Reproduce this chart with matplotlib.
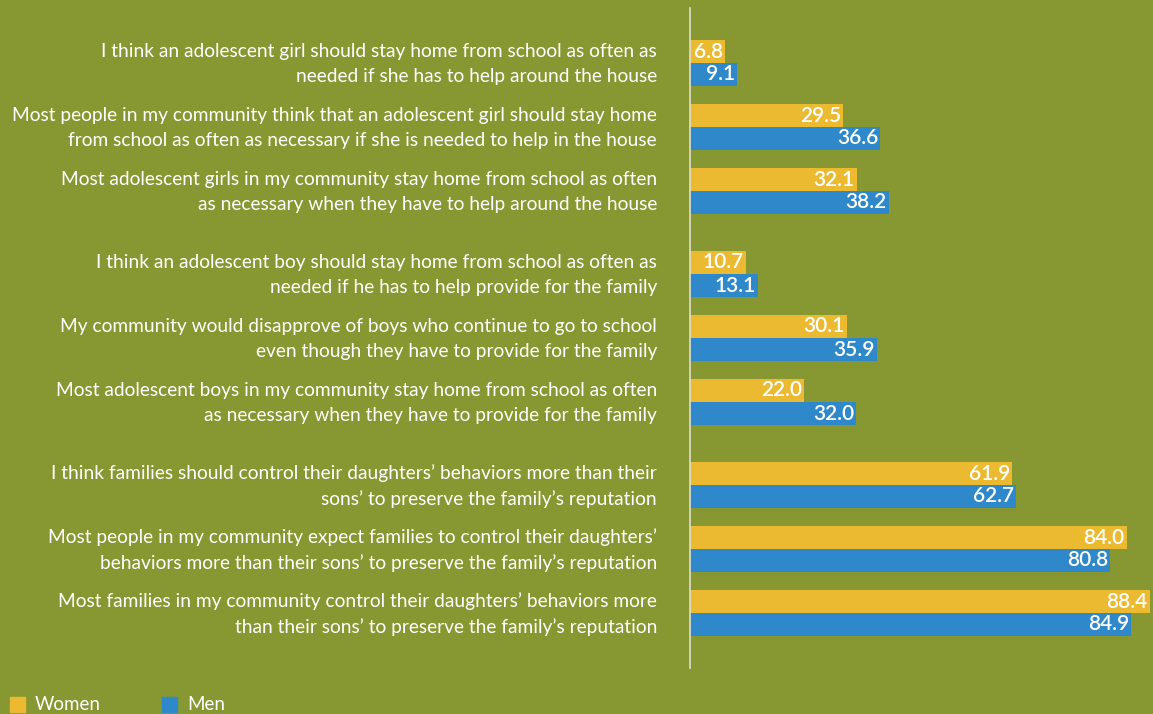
import matplotlib.pyplot as plt
from matplotlib.patches import Rectangle

# data
labels = [
    "I think an adolescent girl should stay home from school as often as\nneeded if she has to help around the house",
    "Most people in my community think that an adolescent girl should stay home\nfrom school as often as necessary if she is needed to help in the house",
    "Most adolescent girls in my community stay home from school as often\nas necessary when they have to help around the house",
    "I think an adolescent boy should stay home from school as often as\nneeded if he has to help provide for the family",
    "My community would disapprove of boys who continue to go to school\neven though they have to provide for the family",
    "Most adolescent boys in my community stay home from school as often\nas necessary when they have to provide for the family",
    "I think families should control their daughters\u2019 behaviors more than their\nsons\u2019 to preserve the family\u2019s reputation",
    "Most people in my community expect families to control their daughters\u2019\nbehaviors more than their sons\u2019 to preserve the family\u2019s reputation",
    "Most families in my community control their daughters\u2019 behaviors more\nthan their sons\u2019 to preserve the family\u2019s reputation",
]
women = [6.8, 29.5, 32.1, 10.7, 30.1, 22.0, 61.9, 84.0, 88.4]
men = [9.1, 36.6, 38.2, 13.1, 35.9, 32.0, 62.7, 80.8, 84.9]
sections = [0, 0, 0, 1, 1, 1, 2, 2, 2]

bg = '#879731'
yellow = '#ebba31'
blue = '#2e88c9'

W, H = 1153, 714
fig = plt.figure(figsize=(W / 100, H / 100), dpi=100, facecolor=bg)
ax = fig.add_axes([690 / W, (H - 668) / H, (W - 690) / W, (668 - 8) / H])
ax.set_facecolor(bg)

# y in pixel units from top
centers = [63 + 64 * i + 19 * s for i, s in enumerate(sections)]
bh = 22.5
ax.barh([c - 11.5 for c in centers], women, height=bh, color=yellow)
ax.barh([c + 11.5 for c in centers], men, height=bh, color=blue)

ax.set_xlim(0, (W - 690) / 5.2)
ax.set_ylim(668, 8)

for c, w, m in zip(centers, women, men):
    ax.text(w - 0.4, c - 11.5, f'{w:.1f}', ha='right', va='center', color='white',
            fontsize=15, fontfamily='Lato', fontweight='semibold')
    ax.text(m - 0.4, c + 11.5, f'{m:.1f}', ha='right', va='center', color='white',
            fontsize=15, fontfamily='Lato', fontweight='semibold')

for c, lab in zip(centers, labels):
    fig.text(657 / W, 1 - (c + 1) / H, lab, ha='right', va='center', color='white',
             fontsize=13.8, fontfamily='Lato', linespacing=1.55)

ax.set_xticks([])
ax.set_yticks([])
for s in ['top', 'right', 'bottom']:
    ax.spines[s].set_visible(False)
ax.spines['left'].set_color('#e0e0d0')
ax.spines['left'].set_linewidth(1.2)

# legend
fig.patches.append(Rectangle((10 / W, 1 - 712 / H), 15 / W, 15 / H, transform=fig.transFigure,
                             color=yellow))
fig.text(35 / W, 1 - 705 / H, 'Women', ha='left', va='center', color='white',
         fontsize=13.5, fontfamily='Lato')
fig.patches.append(Rectangle((162 / W, 1 - 712 / H), 15 / W, 15 / H, transform=fig.transFigure,
                             color=blue))
fig.text(187 / W, 1 - 705 / H, 'Men', ha='left', va='center', color='white',
         fontsize=13.5, fontfamily='Lato')

fig.savefig('out.png', dpi=100, facecolor=bg)
